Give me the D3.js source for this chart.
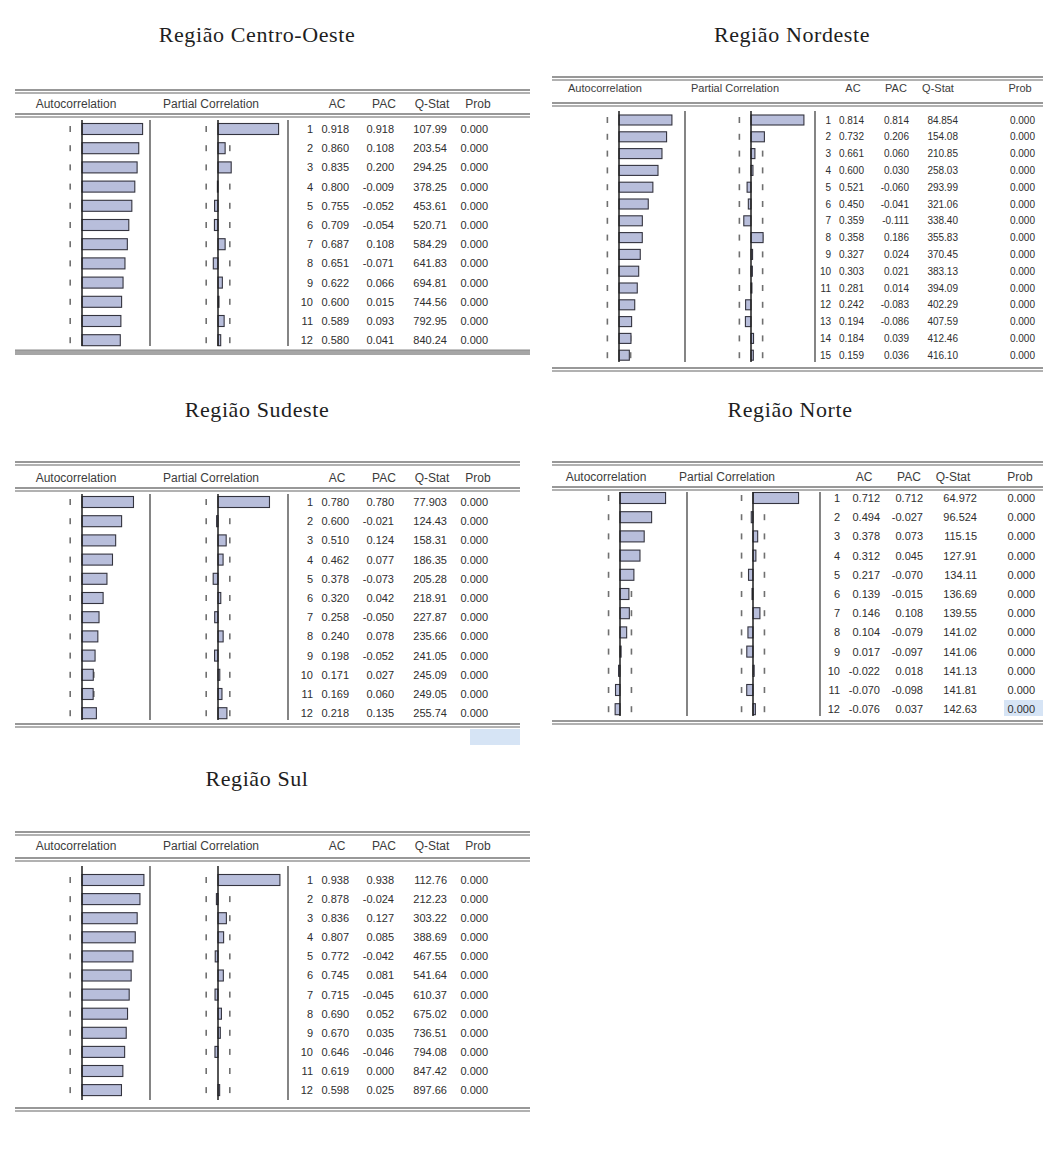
<!DOCTYPE html>
<html>
<head>
<meta charset="utf-8">
<script src="https://cdn.jsdelivr.net/npm/d3@7"></script>
<style>
  body { margin: 0; background: #fff; }
</style>
</head>
<body>
<svg id="chart" width="1043" height="1166"></svg>
<script>
// Correlograms of the regional series (lags, AC, PAC, Q-Stat, Prob)
const lagsCentroOeste = [1, 2, 3, 4, 5, 6, 7, 8, 9, 10, 11, 12];
const acCentroOeste   = [0.918, 0.860, 0.835, 0.800, 0.755, 0.709, 0.687, 0.651, 0.622, 0.600, 0.589, 0.580];
const pacCentroOeste  = [0.918, 0.108, 0.200, -0.009, -0.052, -0.054, 0.108, -0.071, 0.066, 0.015, 0.093, 0.041];
const qCentroOeste    = [107.99, 203.54, 294.25, 378.25, 453.61, 520.71, 584.29, 641.83, 694.81, 744.56, 792.95, 840.24];
const probCentroOeste = [0, 0, 0, 0, 0, 0, 0, 0, 0, 0, 0, 0];

const lagsNordeste = [1, 2, 3, 4, 5, 6, 7, 8, 9, 10, 11, 12, 13, 14, 15];
const acNordeste   = [0.814, 0.732, 0.661, 0.600, 0.521, 0.450, 0.359, 0.358, 0.327, 0.303, 0.281, 0.242, 0.194, 0.184, 0.159];
const pacNordeste  = [0.814, 0.206, 0.060, 0.030, -0.060, -0.041, -0.111, 0.186, 0.024, 0.021, 0.014, -0.083, -0.086, 0.039, 0.036];
const qNordeste    = [84.854, 154.08, 210.85, 258.03, 293.99, 321.06, 338.40, 355.83, 370.45, 383.13, 394.09, 402.29, 407.59, 412.46, 416.10];
const probNordeste = [0, 0, 0, 0, 0, 0, 0, 0, 0, 0, 0, 0, 0, 0, 0];

const lagsSudeste = [1, 2, 3, 4, 5, 6, 7, 8, 9, 10, 11, 12];
const acSudeste   = [0.780, 0.600, 0.510, 0.462, 0.378, 0.320, 0.258, 0.240, 0.198, 0.171, 0.169, 0.218];
const pacSudeste  = [0.780, -0.021, 0.124, 0.077, -0.073, 0.042, -0.050, 0.078, -0.052, 0.027, 0.060, 0.135];
const qSudeste    = [77.903, 124.43, 158.31, 186.35, 205.28, 218.91, 227.87, 235.66, 241.05, 245.09, 249.05, 255.74];
const probSudeste = [0, 0, 0, 0, 0, 0, 0, 0, 0, 0, 0, 0];

const lagsNorte = [1, 2, 3, 4, 5, 6, 7, 8, 9, 10, 11, 12];
const acNorte   = [0.712, 0.494, 0.378, 0.312, 0.217, 0.139, 0.146, 0.104, 0.017, -0.022, -0.070, -0.076];
const pacNorte  = [0.712, -0.027, 0.073, 0.045, -0.070, -0.015, 0.108, -0.079, -0.097, 0.018, -0.098, 0.037];
const qNorte    = [64.972, 96.524, 115.15, 127.91, 134.11, 136.69, 139.55, 141.02, 141.06, 141.13, 141.81, 142.63];
const probNorte = [0, 0, 0, 0, 0, 0, 0, 0, 0, 0, 0, 0];

const lagsSul = [1, 2, 3, 4, 5, 6, 7, 8, 9, 10, 11, 12];
const acSul   = [0.938, 0.878, 0.836, 0.807, 0.772, 0.745, 0.715, 0.690, 0.670, 0.646, 0.619, 0.598];
const pacSul  = [0.938, -0.024, 0.127, 0.085, -0.042, 0.081, -0.045, 0.052, 0.035, -0.046, 0.000, 0.025];
const qSul    = [112.76, 212.23, 303.22, 388.69, 467.55, 541.64, 610.37, 675.02, 736.51, 794.08, 847.42, 897.66];
const probSul = [0, 0, 0, 0, 0, 0, 0, 0, 0, 0, 0, 0];

const headerLabels = ["AC", "PAC", "Q-Stat", "Prob"];

// sample size behind the correlograms; dotted bands sit at +/- 2/sqrt(n)
const nObs = 125;
const band = 2 / Math.sqrt(nObs);

// plain hyphen for negatives, as in the statistics output
const locale = d3.formatLocale({ decimal: ".", thousands: ",", grouping: [3], currency: ["", ""], minus: "-" });
const fmtCorr = locale.format(".3f");
const fmtQ = locale.format(".5r");

const sansFont = "'Liberation Sans', Arial, sans-serif";
const serifFont = "'Liberation Serif', 'Times New Roman', serif";
const textColor = "#2e2e2e";
const barFill = "#b8bedb";
const barStroke = "#34343f";

const svg = d3.select("#chart");

function doubleLine(g, x0, x1, y) {
  g.append("line").attr("x1", x0).attr("x2", x1).attr("y1", y).attr("y2", y)
    .attr("stroke", "#767676").attr("stroke-width", 1.3);
  g.append("line").attr("x1", x0).attr("x2", x1).attr("y1", y + 3).attr("y2", y + 3)
    .attr("stroke", "#979797").attr("stroke-width", 1.3);
}

function drawPanel(p, lags, ac, pac, q, prob) {
  const g = svg.append("g");

  g.append("text")
    .attr("x", p.titleX).attr("y", p.titleY)
    .attr("text-anchor", "middle")
    .attr("font-family", serifFont).attr("font-size", p.titleSize)
    .attr("letter-spacing", 0.6)
    .attr("fill", "#1e1e1e")
    .text(p.title);

  // table rules
  doubleLine(g, p.x0, p.x1, p.topY);
  doubleLine(g, p.x0, p.x1, p.headLineY);
  if (p.thickBottom) {
    g.append("rect").attr("x", p.x0).attr("y", p.bottomY).attr("width", p.x1 - p.x0).attr("height", 5)
      .attr("fill", "#a6a6a6");
    g.append("line").attr("x1", p.x0).attr("x2", p.x1).attr("y1", p.bottomY).attr("y2", p.bottomY)
      .attr("stroke", "#8a8a8a").attr("stroke-width", 1);
  } else {
    doubleLine(g, p.x0, p.x1, p.bottomY);
  }

  // header
  const head = g.append("g")
    .attr("font-family", sansFont).attr("font-size", p.headSize)
    .attr("fill", "#3c3c3c").attr("text-anchor", "middle");
  head.append("text").attr("x", p.headAcf).attr("y", p.headY).text("Autocorrelation");
  head.append("text").attr("x", p.headPacf).attr("y", p.headY).text("Partial Correlation");
  headerLabels.forEach((lab, i) => {
    head.append("text").attr("x", p.headCols[i]).attr("y", p.headY).text(lab);
  });

  const y = d3.scalePoint()
    .domain(lags)
    .range([p.row1, p.row1 + (lags.length - 1) * p.step]);

  const xAc = d3.scaleLinear().domain([-1, 1]).range([p.acZero - p.unit, p.acZero + p.unit]);
  const xPac = d3.scaleLinear().domain([-1, 1]).range([p.pacZero - p.unit, p.pacZero + p.unit]);

  // highlighted cells
  if (p.highlight) {
    g.append("rect").attr("x", p.highlight.x).attr("y", p.highlight.y)
      .attr("width", p.highlight.w).attr("height", p.highlight.h)
      .attr("fill", "#d6e4f5");
  }

  [[xAc, ac], [xPac, pac]].forEach(([x, vals]) => {
    // dotted confidence band
    [-band, band].forEach(b => {
      g.selectAll(null).data(lags).join("rect")
        .attr("x", x(b) - 0.8).attr("y", d => y(d) - 3)
        .attr("width", 1.6).attr("height", 6)
        .attr("fill", "#707070");
    });
    // bars
    g.selectAll(null).data(lags.map((l, i) => ({ l, v: vals[i] }))).join("rect")
      .attr("x", d => Math.min(x(0), x(d.v)))
      .attr("y", d => y(d.l) - p.barH / 2)
      .attr("width", d => Math.abs(x(d.v) - x(0)))
      .attr("height", p.barH)
      .attr("fill", barFill)
      .attr("stroke", barStroke).attr("stroke-width", 1.1);
    // zero line
    g.append("line").attr("x1", x(0)).attr("x2", x(0)).attr("y1", p.vTop).attr("y2", p.vBot)
      .attr("stroke", "#1e1e1e").attr("stroke-width", 1.5);
  });

  // column separators
  [p.sep1, p.sep2].forEach(sx => {
    g.append("line").attr("x1", sx).attr("x2", sx).attr("y1", p.vTop).attr("y2", p.vBot)
      .attr("stroke", "#333").attr("stroke-width", 1.2);
  });

  // numeric columns
  const cols = [
    lags.map(String),
    ac.map(fmtCorr),
    pac.map(fmtCorr),
    q.map(fmtQ),
    prob.map(fmtCorr)
  ];
  const body = g.append("g")
    .attr("font-family", sansFont).attr("font-size", p.bodySize)
    .attr("fill", textColor).attr("text-anchor", "end");
  cols.forEach((col, ci) => {
    body.selectAll(null).data(lags).join("text")
      .attr("x", p.cols[ci])
      .attr("y", (d, i) => y(d) + p.bodySize * 0.36)
      .text((d, i) => col[i]);
  });
}

const leftCols = [313, 349, 394, 447, 488];
const leftHead = [337, 384, 432, 478];

drawPanel({
  title: "Região Centro-Oeste", titleX: 257, titleY: 42, titleSize: 22,
  x0: 15, x1: 530, topY: 90, headLineY: 114, headY: 108, bottomY: 350, thickBottom: true,
  headAcf: 76, headPacf: 211, headCols: leftHead, headSize: 12,
  row1: 129, step: 19.2, vTop: 120, vBot: 346, barH: 11,
  acZero: 82, pacZero: 218, unit: 66, sep1: 150, sep2: 288,
  cols: leftCols, bodySize: 11
}, lagsCentroOeste, acCentroOeste, pacCentroOeste, qCentroOeste, probCentroOeste);

drawPanel({
  title: "Região Nordeste", titleX: 792, titleY: 42, titleSize: 22,
  x0: 552, x1: 1043, topY: 77, headLineY: 103, headY: 92, bottomY: 368,
  headAcf: 605, headPacf: 735, headCols: [853, 896, 938, 1020], headSize: 11,
  row1: 120, step: 16.8, vTop: 111, vBot: 362, barH: 10,
  acZero: 619, pacZero: 751, unit: 65, sep1: 685, sep2: 815,
  cols: [831, 864, 909, 958, 1035], bodySize: 10
}, lagsNordeste, acNordeste, pacNordeste, qNordeste, probNordeste);

drawPanel({
  title: "Região Sudeste", titleX: 257, titleY: 417, titleSize: 22,
  x0: 15, x1: 520, topY: 462, headLineY: 488, headY: 482, bottomY: 724,
  headAcf: 76, headPacf: 211, headCols: leftHead, headSize: 12,
  row1: 502, step: 19.2, vTop: 494, vBot: 720, barH: 11,
  acZero: 82, pacZero: 218, unit: 66, sep1: 150, sep2: 288,
  cols: leftCols, bodySize: 11,
  highlight: { x: 470, y: 729, w: 50, h: 16 }
}, lagsSudeste, acSudeste, pacSudeste, qSudeste, probSudeste);

drawPanel({
  title: "Região Norte", titleX: 790, titleY: 417, titleSize: 22,
  x0: 552, x1: 1043, topY: 462, headLineY: 487, headY: 481, bottomY: 721,
  headAcf: 606, headPacf: 727, headCols: [864, 909, 953, 1020], headSize: 12,
  row1: 498, step: 19.2, vTop: 492, vBot: 716, barH: 11,
  acZero: 620, pacZero: 753, unit: 64, sep1: 687, sep2: 820,
  cols: [840, 880, 923, 977, 1035], bodySize: 11,
  highlight: { x: 1004, y: 700, w: 39, h: 16 }
}, lagsNorte, acNorte, pacNorte, qNorte, probNorte);

drawPanel({
  title: "Região Sul", titleX: 257, titleY: 786, titleSize: 22,
  x0: 15, x1: 530, topY: 832, headLineY: 858, headY: 850, bottomY: 1108,
  headAcf: 76, headPacf: 211, headCols: leftHead, headSize: 12,
  row1: 880, step: 19.1, vTop: 866, vBot: 1100, barH: 11,
  acZero: 82, pacZero: 218, unit: 66, sep1: 150, sep2: 288,
  cols: leftCols, bodySize: 11
}, lagsSul, acSul, pacSul, qSul, probSul);
</script>
</body>
</html>
